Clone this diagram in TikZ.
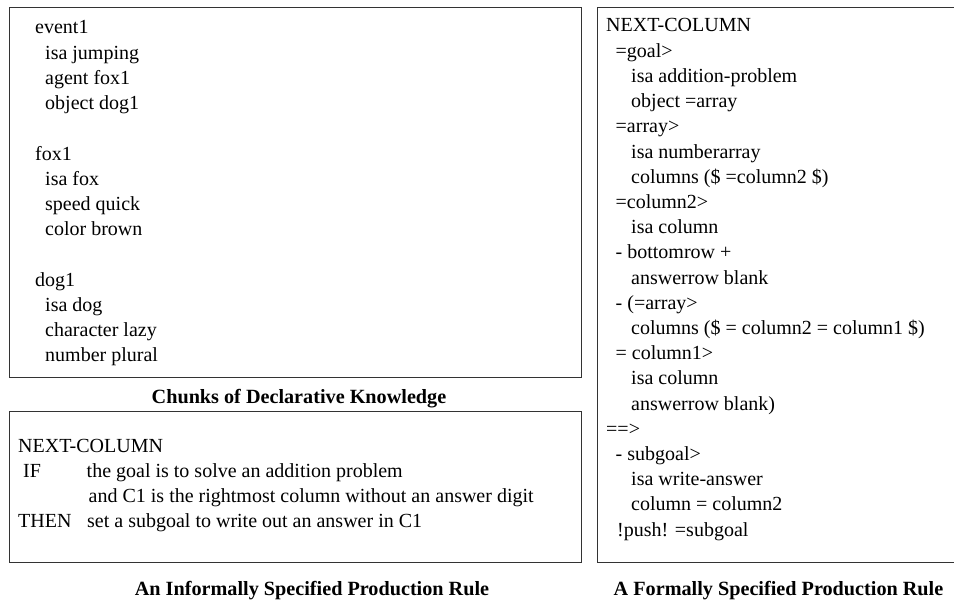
\documentclass[tikz,border=0pt]{standalone}
\usepackage{fontspec}
\setmainfont{Liberation Serif}
\begin{document}
\begin{tikzpicture}[x=1pt,y=-1pt,
  frame/.style={draw=black!80, line width=1.1pt, inner sep=0pt, anchor=north west},
  txt/.style={anchor=base west, inner sep=0pt, font=\fontsize{20}{25}\selectfont},
  captiontext/.style={anchor=base, inner sep=0pt, font=\fontsize{20.2}{25}\selectfont\bfseries}]
\useasboundingbox (0,0) rectangle (954,602);
\fill[white] (0,0) rectangle (954,602);

% frames
\node[frame, minimum width=572pt, minimum height=370pt] (chunks) at (9,7) {};
\node[frame, minimum width=572pt, minimum height=151pt] (informal) at (9,411) {};
\node[frame, minimum width=365pt, minimum height=555pt] (formal) at (597,7) {};

% declarative chunks
\node[txt] (c1)  at (35, 34.0)  {event1};
\node[txt] (c2)  at (45, 59.2)  {isa jumping};
\node[txt] (c3)  at (45, 84.4)  {agent fox1};
\node[txt] (c4)  at (45,109.6)  {object dog1};
\node[txt] (c5)  at (35,160.0)  {fox1};
\node[txt] (c6)  at (45,185.2)  {isa fox};
\node[txt] (c7)  at (45,210.4)  {speed quick};
\node[txt] (c8)  at (45,235.6)  {color brown};
\node[txt] (c9)  at (35,286.0)  {dog1};
\node[txt] (c10) at (45,311.2)  {isa dog};
\node[txt] (c11) at (45,336.4)  {character lazy};
\node[txt] (c12) at (45,361.6)  {number plural};
\node[captiontext] (capchunks) at (299,403) {Chunks of Declarative Knowledge};

% informal rule
\node[txt] (i1) at (18,452.0) {NEXT-COLUMN};
\node[txt] (i2) at (23,477.2) {IF};
\node[txt] (i3) at (86.5,477.2) {the goal is to solve an addition problem};
\node[txt] (i4) at (88.5,502.4) {and C1 is the rightmost column without an answer digit};
\node[txt] (i5) at (18,527.6) {THEN};
\node[txt] (i6) at (87,527.6) {set a subgoal to write out an answer in C1};
\node[captiontext] (capinformal) at (312,595) {An Informally Specified Production Rule};

% formal rule
\node[txt] (f1)  at (606, 32.0) {NEXT-COLUMN};
\node[txt] (f2)  at (615.5, 57.2) {=goal>};
\node[txt] (f3)  at (631, 82.4) {isa addition-problem};
\node[txt] (f4)  at (631,107.6) {object =array};
\node[txt] (f5)  at (615.5,132.8) {=array>};
\node[txt] (f6)  at (631,158.0) {isa numberarray};
\node[txt] (f7)  at (631,183.2) {columns (\$ =column2 \$)};
\node[txt] (f8)  at (615.5,208.4) {=column2>};
\node[txt] (f9)  at (631,233.6) {isa column};
\node[txt] (f10) at (615.5,258.8) {- bottomrow +};
\node[txt] (f11) at (631,284.0) {answerrow blank};
\node[txt] (f12) at (615.5,309.2) {- (=array>};
\node[txt] (f13) at (631,334.4) {columns (\$ = column2 = column1 \$)};
\node[txt] (f14) at (615.5,359.6) {= column1>};
\node[txt] (f15) at (631,384.8) {isa column};
\node[txt] (f16) at (631,410.0) {answerrow blank)};
\node[txt] (f17) at (606,435.2) {==>};
\node[txt] (f18) at (615.5,460.4) {- subgoal>};
\node[txt] (f19) at (631,485.6) {isa write-answer};
\node[txt] (f20) at (631,510.8) {column = column2};
\node[txt] (f21) at (617,536.0) {!push! =subgoal};
\node[captiontext] (capformal) at (778.5,595) {A Formally Specified Production Rule};
\end{tikzpicture}
\end{document}
